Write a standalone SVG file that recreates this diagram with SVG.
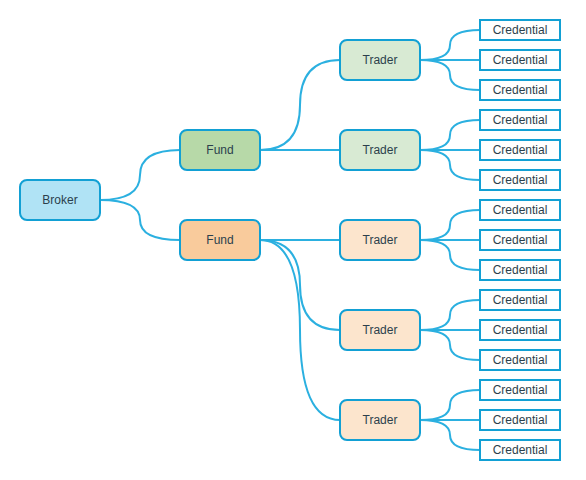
<svg xmlns="http://www.w3.org/2000/svg" width="586" height="480" viewBox="0 0 586 480">
<style>
.n{stroke:#12a0d4;stroke-width:2}
.c{fill:#ffffff;stroke:#12a0d4;stroke-width:2}
.e{fill:none;stroke:#2bb0e0;stroke-width:2}
text{font-family:"Liberation Sans",Arial,sans-serif;font-size:12px;fill:#2b3f4c;text-anchor:middle;dominant-baseline:central}
</style>
<rect width="586" height="480" fill="#ffffff"/>
<g id="connectors">
<path class="e" d="M100 200 Q140 200 140 175 Q140 150 180 150"/>
<path class="e" d="M100 200 Q140 200 140 220 Q140 240 180 240"/>
<path class="e" d="M260 150 Q300 150 300 105 Q300 60 340 60"/>
<path class="e" d="M260 150 L340 150"/>
<path class="e" d="M260 240 L340 240"/>
<path class="e" d="M260 240 Q300 240 300 285 Q300 330 340 330"/>
<path class="e" d="M260 240 Q300 240 300 330 Q300 420 340 420"/>
<path class="e" d="M420 60 Q450 60 450 45 Q450 30 480 30"/>
<path class="e" d="M420 60 L480 60"/>
<path class="e" d="M420 60 Q450 60 450 75 Q450 90 480 90"/>
<path class="e" d="M420 150 Q450 150 450 135 Q450 120 480 120"/>
<path class="e" d="M420 150 L480 150"/>
<path class="e" d="M420 150 Q450 150 450 165 Q450 180 480 180"/>
<path class="e" d="M420 240 Q450 240 450 225 Q450 210 480 210"/>
<path class="e" d="M420 240 L480 240"/>
<path class="e" d="M420 240 Q450 240 450 255 Q450 270 480 270"/>
<path class="e" d="M420 330 Q450 330 450 315 Q450 300 480 300"/>
<path class="e" d="M420 330 L480 330"/>
<path class="e" d="M420 330 Q450 330 450 345 Q450 360 480 360"/>
<path class="e" d="M420 420 Q450 420 450 405 Q450 390 480 390"/>
<path class="e" d="M420 420 L480 420"/>
<path class="e" d="M420 420 Q450 420 450 435 Q450 450 480 450"/>
</g>
<g id="broker"><rect class="n" x="20" y="180" width="80" height="40" rx="7" fill="#b0e3f5"/><text x="60" y="200">Broker</text></g>
<g id="fund1"><rect class="n" x="180" y="130" width="80" height="40" rx="7" fill="#b7d9a8"/><text x="220" y="150">Fund</text></g>
<g id="fund2"><rect class="n" x="180" y="220" width="80" height="40" rx="7" fill="#f9cb9c"/><text x="220" y="240">Fund</text></g>
<g id="trader1"><rect class="n" x="340" y="40" width="80" height="40" rx="7" fill="#d8ead3"/><text x="380" y="60">Trader</text></g>
<g id="trader2"><rect class="n" x="340" y="130" width="80" height="40" rx="7" fill="#d8ead3"/><text x="380" y="150">Trader</text></g>
<g id="trader3"><rect class="n" x="340" y="220" width="80" height="40" rx="7" fill="#fce5cd"/><text x="380" y="240">Trader</text></g>
<g id="trader4"><rect class="n" x="340" y="310" width="80" height="40" rx="7" fill="#fce5cd"/><text x="380" y="330">Trader</text></g>
<g id="trader5"><rect class="n" x="340" y="400" width="80" height="40" rx="7" fill="#fce5cd"/><text x="380" y="420">Trader</text></g>
<g id="cred1"><rect class="c" x="480" y="20" width="80" height="20"/><text x="520" y="30">Credential</text></g>
<g id="cred2"><rect class="c" x="480" y="50" width="80" height="20"/><text x="520" y="60">Credential</text></g>
<g id="cred3"><rect class="c" x="480" y="80" width="80" height="20"/><text x="520" y="90">Credential</text></g>
<g id="cred4"><rect class="c" x="480" y="110" width="80" height="20"/><text x="520" y="120">Credential</text></g>
<g id="cred5"><rect class="c" x="480" y="140" width="80" height="20"/><text x="520" y="150">Credential</text></g>
<g id="cred6"><rect class="c" x="480" y="170" width="80" height="20"/><text x="520" y="180">Credential</text></g>
<g id="cred7"><rect class="c" x="480" y="200" width="80" height="20"/><text x="520" y="210">Credential</text></g>
<g id="cred8"><rect class="c" x="480" y="230" width="80" height="20"/><text x="520" y="240">Credential</text></g>
<g id="cred9"><rect class="c" x="480" y="260" width="80" height="20"/><text x="520" y="270">Credential</text></g>
<g id="cred10"><rect class="c" x="480" y="290" width="80" height="20"/><text x="520" y="300">Credential</text></g>
<g id="cred11"><rect class="c" x="480" y="320" width="80" height="20"/><text x="520" y="330">Credential</text></g>
<g id="cred12"><rect class="c" x="480" y="350" width="80" height="20"/><text x="520" y="360">Credential</text></g>
<g id="cred13"><rect class="c" x="480" y="380" width="80" height="20"/><text x="520" y="390">Credential</text></g>
<g id="cred14"><rect class="c" x="480" y="410" width="80" height="20"/><text x="520" y="420">Credential</text></g>
<g id="cred15"><rect class="c" x="480" y="440" width="80" height="20"/><text x="520" y="450">Credential</text></g>
</svg>
